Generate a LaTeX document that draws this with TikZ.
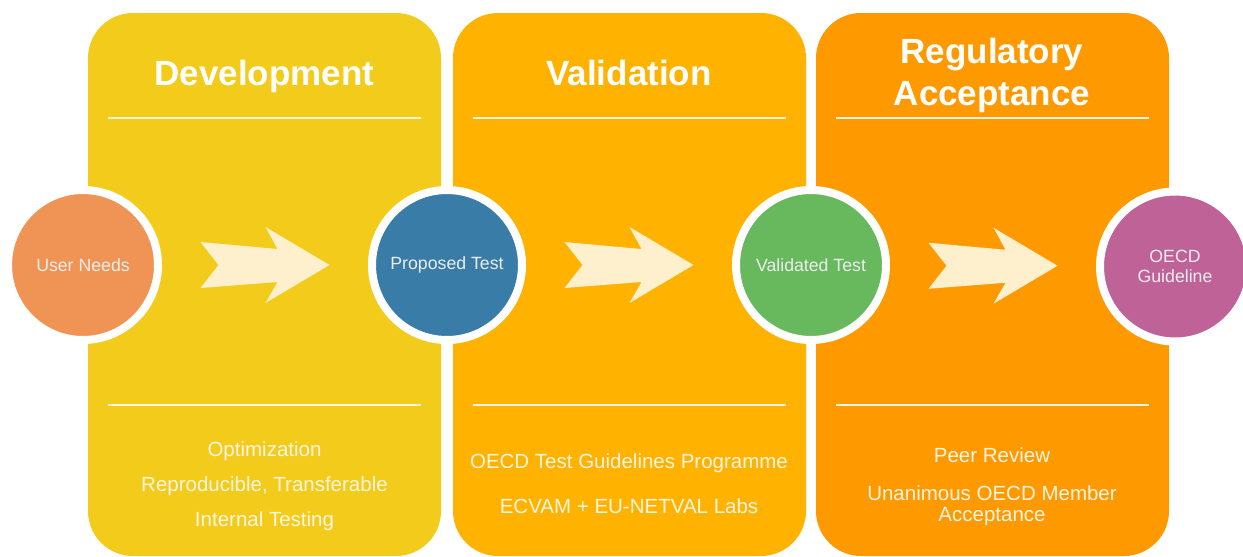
\documentclass[tikz,border=0pt]{standalone}
\usepackage{fontspec}
\setmainfont{Liberation Sans}
\usetikzlibrary{calc}
\definecolor{devel}{RGB}{243,203,27}
\definecolor{valid}{RGB}{255,178,0}
\definecolor{regul}{RGB}{255,153,0}
\definecolor{needsc}{RGB}{239,148,84}
\definecolor{proposedc}{RGB}{56,124,167}
\definecolor{validatedc}{RGB}{104,185,94}
\definecolor{guidelinec}{RGB}{191,98,152}
\definecolor{chevron}{RGB}{255,240,205}
\definecolor{softwhite}{RGB}{255,245,226}
\begin{document}
\begin{tikzpicture}[x=1pt, y=-1pt,
    panel/.style={fill=#1, rounded corners=45pt},
    stage/.style={circle, fill=#1, draw=white, line width=8pt, minimum size=150pt, inner sep=0pt,
        text=white!93!black, align=center, font=\fontsize{17.7}{20}\selectfont},
    title/.style={text=white, align=center, inner sep=0pt, font=\fontsize{35}{42}\selectfont\bfseries},
    notes/.style={text=softwhite, align=center, inner sep=0pt, anchor=north, font=\fontsize{20.5}{#1}\selectfont},
    rule/.style={draw=softwhite, line width=2pt}]
    \useasboundingbox (0,0) rectangle (1243,557);
    \foreach \c/\x in {devel/88, valid/453, regul/816} {
        \fill[panel=\c] (\x,13) rectangle ++(353,543);
        \draw[rule] (\x+20,118) -- ++(313,0);
        \draw[rule] (\x+20,405) -- ++(313,0);
    }
    \node[title, anchor=base] (devtitle) at (264.5,85) {Development};
    \node[title, anchor=base] (valtitle) at (629,85) {Validation};
    \node[title, anchor=north] (regtitle) at (992,38) {Regulatory\\Acceptance};
    \node[stage=needsc] (needs) at (83,265) {User Needs};
    \node[stage=proposedc] (proposed) at (447,265) {Proposed Test};
    \node[stage=validatedc] (validated) at (811,265) {Validated Test};
    \node[stage=guidelinec] (guideline) at (1175,266.5) {OECD\\Guideline};
    \foreach \a/\b in {needs/proposed, proposed/validated, validated/guideline}
        \fill[chevron, shift={($(\a)!0.5!(\b)$)}] (-64.5,-23) -- (12.5,-16) -- (0.5,-38) -- (64.5,0)
            -- (0.5,38) -- (12.5,17) -- (-64.5,23) -- (-46.5,0) -- cycle;
    \node[notes=35] (devnotes) at (264.5,441) {Optimization\\Reproducible, Transferable\\Internal Testing};
    \node[notes=45] (valnotes) at (629,453) {OECD Test Guidelines Programme\\ECVAM + EU-NETVAL Labs};
    \node[notes=21] (regnotes) at (992,447) {Peer Review\\[17pt]Unanimous OECD Member\\Acceptance};
\end{tikzpicture}
\end{document}
